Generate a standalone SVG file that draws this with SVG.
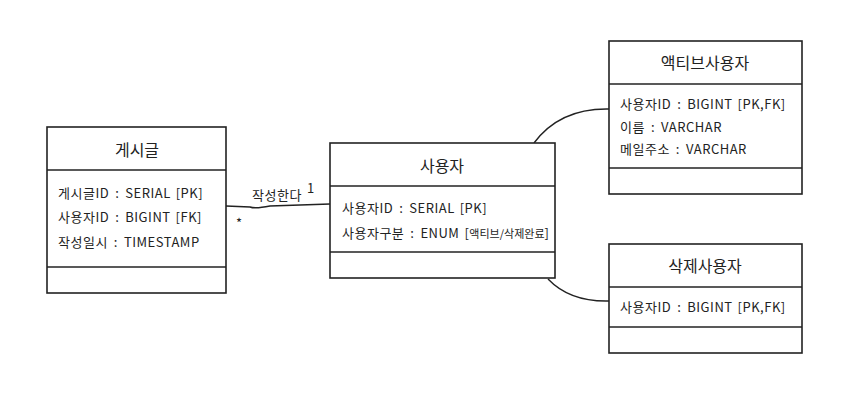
<svg xmlns="http://www.w3.org/2000/svg" width="867" height="407" viewBox="0 0 867 407">
<style>
.b{fill:#fff;stroke:#222;stroke-width:1.6}
.l{stroke:#222;stroke-width:1.4}
.c{fill:none;stroke:#222;stroke-width:1.4}
text{font-family:"Noto Sans CJK KR","Noto Sans",sans-serif;fill:#222}
.t{font-size:16px;text-anchor:middle}
.a{font-size:13px;letter-spacing:0.5px}
</style>
<rect width="867" height="407" fill="#fff"/>
<g id="connectors">
<path class="c" d="M226,206 L250,207 Q255,209 270,206 L330,204"/>
<path class="c" d="M534,143 Q560,108 609,109"/>
<path class="c" d="M548,279 Q570,302 609,301"/>
<text class="a" x="252" y="200">작성한다</text>
<text class="a" x="307" y="193">1</text>
<text class="a" x="236" y="228">*</text>
</g>
<g id="post">
<rect class="b" x="47" y="127" width="179" height="166"/>
<line class="l" x1="47" y1="170" x2="226" y2="170"/>
<line class="l" x1="47" y1="267" x2="226" y2="267"/>
<text class="t" x="137" y="156">게시글</text>
<text class="a" x="58" y="198">게시글ID<tspan dx="6">:</tspan><tspan dx="6">SERIAL</tspan><tspan dx="5">[PK]</tspan></text>
<text class="a" x="58" y="222">사용자ID<tspan dx="6">:</tspan><tspan dx="6">BIGINT</tspan><tspan dx="5">[FK]</tspan></text>
<text class="a" x="58" y="247">작성일시<tspan dx="6">:</tspan><tspan dx="6">TIMESTAMP</tspan></text>
</g>
<g id="user">
<rect class="b" x="330" y="143" width="225" height="135"/>
<line class="l" x1="330" y1="186" x2="555" y2="186"/>
<line class="l" x1="330" y1="252" x2="555" y2="252"/>
<text class="t" x="442" y="172">사용자</text>
<text class="a" x="342" y="213">사용자ID<tspan dx="6">:</tspan><tspan dx="6">SERIAL</tspan><tspan dx="5">[PK]</tspan></text>
<text class="a" x="342" y="238">사용자구분<tspan dx="6">:</tspan><tspan dx="6">ENUM</tspan><tspan dx="5">[</tspan><tspan font-size="11" letter-spacing="0">액티브/삭제완료</tspan>]</text>
</g>
<g id="active">
<rect class="b" x="609" y="41" width="193" height="153"/>
<line class="l" x1="609" y1="84" x2="802" y2="84"/>
<line class="l" x1="609" y1="168" x2="802" y2="168"/>
<text class="t" x="705" y="69">액티브사용자</text>
<text class="a" x="620" y="109">사용자ID<tspan dx="6">:</tspan><tspan dx="6">BIGINT</tspan><tspan dx="5">[PK,FK]</tspan></text>
<text class="a" x="620" y="132">이름<tspan dx="6">:</tspan><tspan dx="6">VARCHAR</tspan></text>
<text class="a" x="620" y="154">메일주소<tspan dx="6">:</tspan><tspan dx="6">VARCHAR</tspan></text>
</g>
<g id="deleted">
<rect class="b" x="609" y="244" width="193" height="109"/>
<line class="l" x1="609" y1="287" x2="802" y2="287"/>
<line class="l" x1="609" y1="327" x2="802" y2="327"/>
<text class="t" x="705" y="272">삭제사용자</text>
<text class="a" x="620" y="312">사용자ID<tspan dx="6">:</tspan><tspan dx="6">BIGINT</tspan><tspan dx="5">[PK,FK]</tspan></text>
</g>
</svg>
